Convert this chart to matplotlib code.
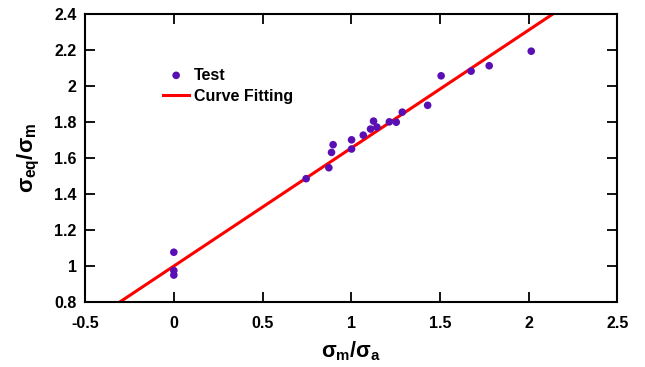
import matplotlib
matplotlib.use("Agg")
import matplotlib.pyplot as plt
import numpy as np

plt.rcParams['font.family'] = ['Liberation Sans', 'DejaVu Sans']
plt.rcParams['mathtext.fontset'] = 'custom'
plt.rcParams['mathtext.rm'] = 'Liberation Sans:bold'
plt.rcParams['mathtext.it'] = 'Liberation Sans:bold'
plt.rcParams['mathtext.bf'] = 'Liberation Sans:bold'

# Test data (sigma_m/sigma_a, sigma_eq/sigma_m)
test_x = [0.0, 0.0, 0.0, 0.746, 0.874, 0.889, 0.898, 1.002, 1.002, 1.068,
          1.109, 1.126, 1.145, 1.215, 1.254, 1.288, 1.431, 1.507, 1.676,
          1.778, 2.015]
test_y = [1.077, 0.975, 0.950, 1.486, 1.547, 1.632, 1.675, 1.651, 1.702, 1.728,
          1.762, 1.806, 1.773, 1.802, 1.800, 1.856, 1.894, 2.058, 2.084,
          2.114, 2.195]

# Curve fitting: y = fit_b + fit_a * x
fit_a = 0.656
fit_b = 1.0

x_ticks = [-0.5, 0, 0.5, 1, 1.5, 2, 2.5]
x_labels = ['-0.5', '0', '0.5', '1', '1.5', '2', '2.5']
y_ticks = [0.8, 1.0, 1.2, 1.4, 1.6, 1.8, 2.0, 2.2, 2.4]
y_labels = ['0.8', '1', '1.2', '1.4', '1.6', '1.8', '2', '2.2', '2.4']

fig = plt.figure(figsize=(6.45, 3.67), dpi=100)
ax = fig.add_axes([0.132, 0.177, 0.825, 0.784])

xlim = (-0.5, 2.5)
ylim = (0.8, 2.4)

xf = np.linspace(xlim[0], xlim[1], 200)
yf = fit_b + fit_a * xf
ax.plot(xf, yf, color='#ff0000', lw=2.2, label='Curve Fitting', zorder=2)
ax.scatter(test_x, test_y, s=30, color='#5a0fb4', label='Test', zorder=3, edgecolors='none')

ax.set_xlim(*xlim)
ax.set_ylim(*ylim)
ax.set_xticks(x_ticks)
ax.set_xticklabels(x_labels)
ax.set_yticks(y_ticks)
ax.set_yticklabels(y_labels)

for s in ax.spines.values():
    s.set_linewidth(1.5)
ax.tick_params(direction='in', length=7, width=1.3, top=True, right=True,
               labelsize=11.5)
ax.tick_params(axis='x', pad=10)
ax.tick_params(axis='y', pad=6)
for lab in ax.get_xticklabels() + ax.get_yticklabels():
    lab.set_fontweight('bold')

ax.set_xlabel(r'$\sigma_m/\sigma_a$', fontsize=15.5, labelpad=6)
ax.set_ylabel(r'$\sigma_{eq}/\sigma_m$', fontsize=16, labelpad=9)

handles, labels = ax.get_legend_handles_labels()
order = [1, 0]
leg = ax.legend([handles[i] for i in order], [labels[i] for i in order],
                loc='upper left', bbox_to_anchor=(0.12, 0.865), frameon=False,
                prop={'weight': 'bold', 'size': 11.5}, handlelength=1.6,
                handletextpad=0.3, labelspacing=0.4, scatterpoints=1)

fig.savefig('out.png', dpi=100)
